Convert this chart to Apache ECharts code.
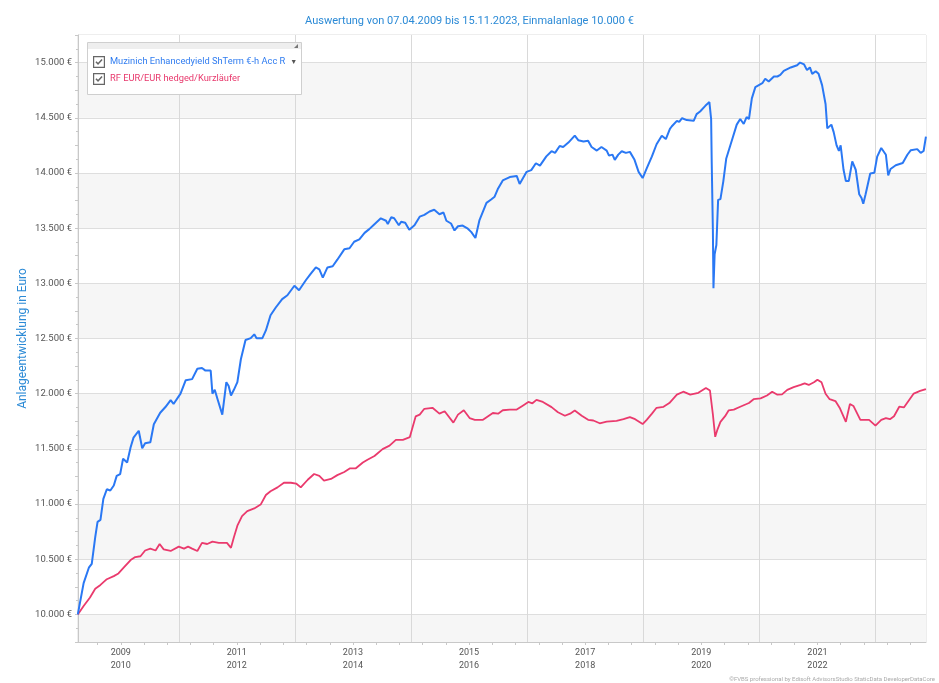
<!DOCTYPE html>
<html>
<head>
<meta charset="utf-8">
<script src="https://cdn.jsdelivr.net/npm/echarts@6/dist/echarts.min.js"></script>
<style>html,body{margin:0;padding:0;background:#fff}#c{width:939px;height:683px}</style>
</head>
<body>
<div id="c"></div>
<script>
// ---- data (dates as decimal years) ----
const titleText = 'Auswertung von 07.04.2009 bis 15.11.2023, Einmalanlage 10.000 €';
const yAxisName = 'Anlageentwicklung in Euro';
const nameBlue = 'Muzinich Enhancedyield ShTerm €-h Acc R';
const nameRed = 'RF EUR/EUR hedged/Kurzläufer';
const watermark = '©FVBS professional by Edisoft AdvisorsStudio StaticData DeveloperDataCore';
const startDate = [2009, 4, 7];
const endDate = [2023, 11, 15];
const yTickLabels = [10000, 10500, 11000, 11500, 12000, 12500, 13000, 13500, 14000, 14500, 15000];
const xLabelYears = [2010, 2012, 2014, 2016, 2018, 2020, 2022];
const xGridYears = [2011, 2013, 2015, 2017, 2019, 2021, 2023];

const blueT = [2009.26,2009.36,2009.45,2009.50,2009.56,2009.60,2009.65,2009.70,2009.76,2009.82,
2009.88,2009.93,2009.99,2010.04,2010.11,2010.17,2010.22,2010.31,2010.37,2010.42,
2010.51,2010.57,2010.68,2010.77,2010.86,2010.91,2011.03,2011.12,2011.23,2011.32,
2011.40,2011.46,2011.55,2011.58,2011.62,2011.67,2011.75,2011.82,2011.86,2011.90,
2011.95,2012.01,2012.07,2012.15,2012.24,2012.30,2012.34,2012.44,2012.50,2012.58,
2012.67,2012.78,2012.87,2012.99,2013.07,2013.19,2013.27,2013.36,2013.42,2013.48,
2013.56,2013.65,2013.73,2013.85,2013.94,2014.02,2014.11,2014.20,2014.28,2014.37,
2014.48,2014.57,2014.60,2014.66,2014.71,2014.79,2014.83,2014.90,2014.97,2015.06,
2015.15,2015.23,2015.32,2015.40,2015.49,2015.56,2015.61,2015.69,2015.75,2015.81,
2015.89,2015.98,2016.04,2016.11,2016.18,2016.30,2016.38,2016.44,2016.50,2016.58,
2016.70,2016.82,2016.87,2016.99,2017.07,2017.15,2017.22,2017.33,2017.42,2017.48,
2017.56,2017.62,2017.71,2017.82,2017.88,2017.97,2018.05,2018.11,2018.20,2018.28,
2018.37,2018.41,2018.47,2018.51,2018.57,2018.63,2018.70,2018.77,2018.85,2018.92,
2018.99,2019.06,2019.15,2019.23,2019.32,2019.39,2019.46,2019.49,2019.58,2019.62,
2019.67,2019.75,2019.87,2019.92,2019.98,2020.07,2020.14,2020.17,2020.18,2020.20,
2020.21,2020.23,2020.26,2020.29,2020.33,2020.36,2020.38,2020.43,2020.47,2020.53,
2020.61,2020.67,2020.73,2020.78,2020.82,2020.87,2020.93,2021.05,2021.10,2021.16,
2021.25,2021.31,2021.36,2021.42,2021.54,2021.65,2021.70,2021.77,2021.82,2021.87,
2021.91,2021.97,2022.02,2022.08,2022.14,2022.17,2022.20,2022.24,2022.28,2022.33,
2022.37,2022.40,2022.45,2022.49,2022.54,2022.60,2022.66,2022.72,2022.76,2022.79,
2022.83,2022.91,2022.98,2023.03,2023.10,2023.18,2023.22,2023.26,2023.35,2023.47,
2023.55,2023.61,2023.72,2023.78,2023.83,2023.87];
const blueV = [10000,10284,10423,10458,10700,10839,10856,11047,11134,11123,
11168,11255,11272,11411,11376,11515,11602,11664,11505,11550,
11560,11723,11827,11879,11941,11907,12000,12122,12132,12226,
12233,12209,12209,12000,12035,11948,11810,12104,12070,11983,
12035,12104,12312,12486,12503,12538,12503,12503,12573,12711,
12781,12857,12892,12978,12937,13030,13086,13144,13127,13051,
13144,13155,13214,13308,13318,13377,13398,13457,13491,13536,
13589,13567,13536,13598,13589,13526,13557,13548,13486,13526,
13604,13620,13651,13667,13626,13642,13567,13542,13479,13517,
13523,13495,13464,13411,13573,13729,13760,13785,13860,13932,
13963,13973,13901,14010,14026,14088,14066,14150,14197,14182,
14244,14235,14275,14338,14297,14285,14291,14235,14203,14235,
14203,14157,14166,14119,14166,14197,14182,14191,14119,14010,
13954,14041,14150,14260,14338,14307,14400,14421,14472,14462,
14496,14479,14472,14533,14557,14608,14642,14489,14097,13483,
12955,13262,13347,13756,13763,13749,13926,14131,14199,14301,
14438,14489,14444,14506,14489,14676,14778,14813,14853,14829,
14874,14874,14888,14925,14956,14976,15000,14983,14932,14956,
14898,14922,14898,14796,14625,14404,14387,14438,14370,14250,
14199,14250,14029,13926,13926,14104,14029,13807,13773,13722,
13807,13995,14001,14148,14226,14165,13978,14036,14070,14090,
14165,14206,14216,14182,14199,14329];

const redT = [2009.26,2009.36,2009.47,2009.56,2009.65,2009.76,2009.88,2009.96,2010.05,2010.17,
2010.25,2010.34,2010.42,2010.51,2010.60,2010.67,2010.74,2010.86,2011.00,2011.09,
2011.16,2011.23,2011.32,2011.40,2011.49,2011.58,2011.69,2011.83,2011.90,2011.95,
2012.01,2012.09,2012.18,2012.30,2012.41,2012.50,2012.58,2012.70,2012.81,2012.93,
2013.02,2013.10,2013.22,2013.33,2013.42,2013.50,2013.62,2013.73,2013.85,2013.95,
2014.05,2014.17,2014.25,2014.37,2014.51,2014.63,2014.74,2014.86,2014.98,2015.08,
2015.15,2015.23,2015.37,2015.49,2015.58,2015.73,2015.81,2015.91,2016.01,2016.10,
2016.24,2016.41,2016.50,2016.58,2016.70,2016.82,2016.93,2017.02,2017.09,2017.16,
2017.27,2017.42,2017.53,2017.65,2017.74,2017.82,2017.94,2018.05,2018.14,2018.25,
2018.37,2018.54,2018.66,2018.77,2018.86,2018.99,2019.06,2019.15,2019.23,2019.35,
2019.45,2019.58,2019.69,2019.81,2019.95,2020.08,2020.15,2020.20,2020.24,2020.28,
2020.33,2020.41,2020.47,2020.56,2020.67,2020.82,2020.90,2021.02,2021.13,2021.22,
2021.31,2021.39,2021.48,2021.59,2021.71,2021.78,2021.85,2021.94,2022.00,2022.07,
2022.14,2022.21,2022.31,2022.39,2022.49,2022.56,2022.62,2022.74,2022.89,2023.00,
2023.10,2023.18,2023.25,2023.32,2023.41,2023.49,2023.66,2023.77,2023.87];
const redV = [10000,10076,10153,10232,10267,10319,10347,10371,10423,10492,
10520,10527,10579,10596,10579,10638,10589,10575,10614,10596,
10614,10596,10575,10648,10638,10659,10648,10648,10603,10700,
10804,10891,10936,10960,10995,11082,11116,11151,11193,11193,
11186,11151,11220,11272,11255,11213,11227,11262,11290,11324,
11324,11376,11401,11435,11498,11529,11582,11582,11607,11794,
11810,11863,11872,11819,11841,11738,11810,11850,11779,11763,
11763,11825,11819,11850,11856,11856,11894,11925,11913,11944,
11925,11878,11832,11800,11819,11847,11800,11763,11757,11732,
11747,11754,11769,11788,11769,11725,11763,11819,11872,11881,
11915,11991,12018,11991,12008,12052,12028,11813,11609,11677,
11745,11796,11848,11855,11882,11916,11950,11957,11984,12018,
11991,11994,12035,12059,12079,12093,12079,12103,12127,12103,
11999,11950,11933,11865,11745,11906,11889,11762,11762,11711,
11762,11779,11769,11796,11882,11875,12001,12025,12042];

// ---- helpers ----
function yr(t) {
  const y = Math.floor(t);
  const s = new Date(y, 0, 1).getTime();
  const e = new Date(y + 1, 0, 1).getTime();
  return s + (t - y) * (e - s);
}
function fmtEuro(v) {
  return String(v).replace(/\B(?=(\d{3})+(?!\d))/g, '.') + ' €';
}
const xMin = new Date(startDate[0], startDate[1] - 1, startDate[2]).getTime();
const xMax = new Date(endDate[0], endDate[1] - 1, endDate[2]).getTime();
const labelVals = xLabelYears.map(y => new Date(y, 0, 1).getTime());
const gridVals = xGridYears.map(y => new Date(y, 0, 1).getTime());
const minorVals = [];
for (let k = -1; k <= 34; k++) minorVals.push(yr(2010 + 0.4 * k));

const FONT = 'Roboto';
const CHECK = 'path://M0,0L100,0L100,100L0,100ZM10,10L10,90L90,90L90,10ZM20,52L29,43L42,57L71,24L80,33L42,76Z';
const chart = echarts.init(document.getElementById('c'));
chart.setOption({
  animation: false,
  backgroundColor: '#ffffff',
  textStyle: { fontFamily: FONT },
  title: {
    text: titleText, left: 'center', top: 11,
    textStyle: { fontSize: 11, fontWeight: 'normal', color: '#2b8ad6', fontFamily: FONT }
  },
  grid: {
    left: 78, right: 13, top: 35, bottom: 41,
    show: true, borderColor: '#dcdcdc', borderWidth: 1, backgroundColor: 'transparent'
  },
  legend: {
    orient: 'vertical', left: 88, top: 51, z: 10,
    itemWidth: 12, itemHeight: 12, itemGap: 5,
    selectedMode: false,
    textStyle: { fontSize: 9.3, fontFamily: FONT, rich: { arr: { color: '#555', fontSize: 7, padding: [0, 0, 0, 5] } } },
    formatter: n => n === nameBlue ? n + '{arr|▼}' : n,
    data: [
      { name: nameBlue, icon: CHECK, itemStyle: { color: '#666' }, textStyle: { color: '#2f7cf0' } },
      { name: nameRed, icon: CHECK, itemStyle: { color: '#666' }, textStyle: { color: '#e8386c' } }
    ]
  },
  graphic: [
    { type: 'rect', z: 5, shape: { x: 87.5, y: 42.5, width: 214, height: 52 }, style: { fill: '#ffffff', stroke: '#cfcfcf', lineWidth: 1 } },
    { type: 'rect', z: 6, shape: { x: 88, y: 43, width: 213, height: 6 }, style: { fill: '#eeeeee' } },
    { type: 'polygon', z: 7, shape: { points: [[298, 44], [298, 48], [294, 48]] }, style: { fill: '#777' } },
    { type: 'text', right: 4, bottom: 1, z: 7, style: { text: watermark, fontSize: 6, fill: '#aaaaaa', fontFamily: FONT } }
  ],
  xAxis: [
    {
      type: 'value', gridIndex: 0, min: xMin, max: xMax, position: 'bottom',
      axisLine: { show: true, onZero: false, lineStyle: { color: '#c8c8c8' } },
      axisTick: { show: true, length: 3, customValues: minorVals, lineStyle: { color: '#c8c8c8' } },
      axisLabel: {
        customValues: labelVals, fontSize: 9, color: '#555', lineHeight: 13, margin: 4, hideOverlap: false,
        formatter: v => { const y = new Date(v).getFullYear(); return (y - 1) + '\n' + y; }
      },
      splitLine: { show: false }
    },
    {
      type: 'value', gridIndex: 0, min: xMin, max: xMax, position: 'bottom',
      axisLine: { show: false, onZero: false },
      axisTick: { show: false, customValues: gridVals },
      axisLabel: { show: false },
      splitLine: { show: true, lineStyle: { color: '#d9d9d9', width: 1 } }
    }
  ],
  yAxis: {
    type: 'value', min: 9750, max: 15250, interval: 250,
    name: yAxisName, nameLocation: 'middle', nameGap: 49, nameMoveOverlap: false,
    nameTextStyle: { fontSize: 12, color: '#2b8ad6', fontFamily: FONT },
    axisLine: { show: true, lineStyle: { color: '#c8c8c8' } },
    axisTick: { show: true, length: 3, lineStyle: { color: '#c8c8c8' } },
    minorTick: { show: true, splitNumber: 2, length: 2, lineStyle: { color: '#c8c8c8' } },
    axisLabel: {
      fontSize: 9.5, color: '#555', margin: 6,
      showMinLabel: false, showMaxLabel: false,
      formatter: v => yTickLabels.indexOf(v) >= 0 ? fmtEuro(v) : ''
    },
    splitLine: { show: true, lineStyle: { color: ['rgba(0,0,0,0)', '#dedede'], width: 1 } },
    splitArea: { show: true, areaStyle: { color: ['#f6f6f6', '#ffffff', '#ffffff', '#f6f6f6'] } }
  },
  series: [
    {
      name: nameBlue, type: 'line', xAxisIndex: 0, showSymbol: false, symbol: 'none',
      lineStyle: { color: '#2a78f4', width: 2 }, itemStyle: { color: '#2a78f4' },
      data: blueT.map((t, i) => [yr(t), blueV[i]]), z: 3
    },
    {
      name: nameRed, type: 'line', xAxisIndex: 0, showSymbol: false, symbol: 'none',
      lineStyle: { color: '#ea3a6d', width: 1.8 }, itemStyle: { color: '#ea3a6d' },
      data: redT.map((t, i) => [yr(t), redV[i]]), z: 2
    }
  ]
});
</script>
</body>
</html>
